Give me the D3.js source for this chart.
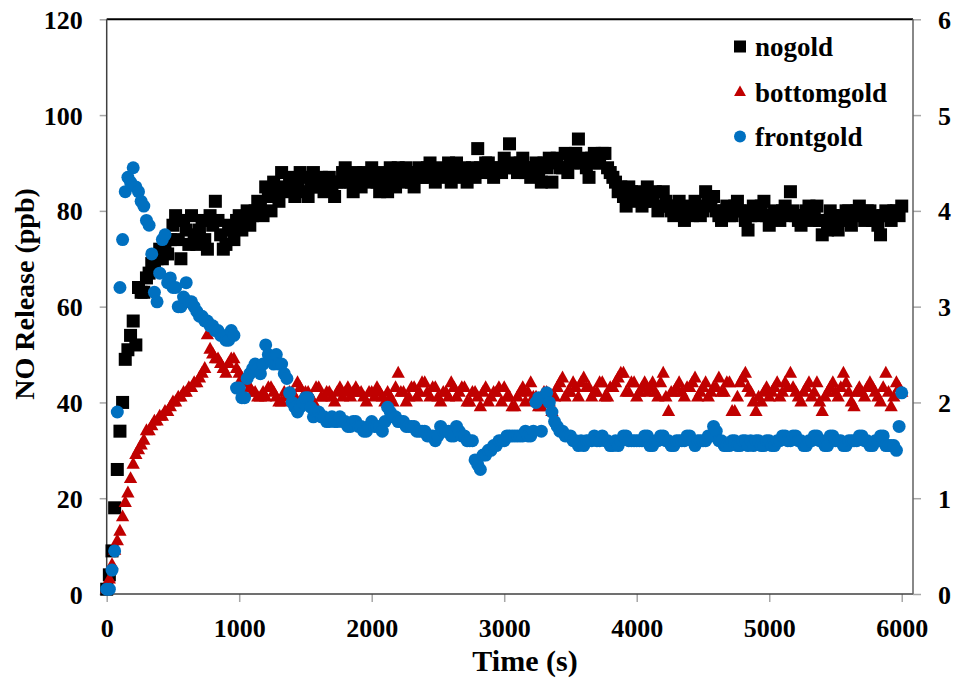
<!DOCTYPE html>
<html>
<head>
<meta charset="utf-8">
<script src="https://cdn.jsdelivr.net/npm/d3@7"></script>
<style>
  body { margin: 0; background: #fff; }
  svg text { font-family: "Liberation Serif", "Times New Roman", serif; font-weight: bold; fill: #000; }
</style>
</head>
<body>
<div id="chart"></div>
<script>
// sample times (s), one row per 500 s
const times = [
  0, 20, 40, 60, 80, 100, 120, 140, 160, 180, 200, 220, 240, 260, 280, 300, 320, 340, 360, 380, 400, 420, 440, 460, 480,
  500, 520, 540, 560, 580, 600, 620, 640, 660, 680, 700, 720, 740, 760, 780, 800, 820, 840, 860, 880, 900, 920, 940, 960, 980,
  1000, 1020, 1040, 1060, 1080, 1100, 1120, 1140, 1160, 1180, 1200, 1220, 1240, 1260, 1280, 1300, 1320, 1340, 1360, 1380, 1400, 1420, 1440, 1460, 1480,
  1500, 1520, 1540, 1560, 1580, 1600, 1620, 1640, 1660, 1680, 1700, 1720, 1740, 1760, 1780, 1800, 1820, 1840, 1860, 1880, 1900, 1920, 1940, 1960, 1980,
  2000, 2020, 2040, 2060, 2080, 2100, 2120, 2140, 2160, 2180, 2200, 2220, 2240, 2260, 2280, 2300, 2320, 2340, 2360, 2380, 2400, 2420, 2440, 2460, 2480,
  2500, 2520, 2540, 2560, 2580, 2600, 2620, 2640, 2660, 2680, 2700, 2720, 2740, 2760, 2780, 2800, 2820, 2840, 2860, 2880, 2900, 2920, 2940, 2960, 2980,
  3000, 3020, 3040, 3060, 3080, 3100, 3120, 3140, 3160, 3180, 3200, 3220, 3240, 3260, 3280, 3300, 3320, 3340, 3360, 3380, 3400, 3420, 3440, 3460, 3480,
  3500, 3520, 3540, 3560, 3580, 3600, 3620, 3640, 3660, 3680, 3700, 3720, 3740, 3760, 3780, 3800, 3820, 3840, 3860, 3880, 3900, 3920, 3940, 3960, 3980,
  4000, 4020, 4040, 4060, 4080, 4100, 4120, 4140, 4160, 4180, 4200, 4220, 4240, 4260, 4280, 4300, 4320, 4340, 4360, 4380, 4400, 4420, 4440, 4460, 4480,
  4500, 4520, 4540, 4560, 4580, 4600, 4620, 4640, 4660, 4680, 4700, 4720, 4740, 4760, 4780, 4800, 4820, 4840, 4860, 4880, 4900, 4920, 4940, 4960, 4980,
  5000, 5020, 5040, 5060, 5080, 5100, 5120, 5140, 5160, 5180, 5200, 5220, 5240, 5260, 5280, 5300, 5320, 5340, 5360, 5380, 5400, 5420, 5440, 5460, 5480,
  5500, 5520, 5540, 5560, 5580, 5600, 5620, 5640, 5660, 5680, 5700, 5720, 5740, 5760, 5780, 5800, 5820, 5840, 5860, 5880, 5900, 5920, 5940, 5960, 5980,
  6000
];

const nogold = [
  1, 4, 9, 18, 26, 34, 40, 49, 51, 54, 57, 52, 64, 63, 63, 66, 67, 69, 68, 70, 72, 70, 73, 71, 74,
  77, 79, 74, 70, 78, 76, 73, 79, 75, 73, 76, 78, 74, 72, 79, 77, 82, 78, 75, 72, 73, 77, 76, 74, 78,
  79, 76, 78, 80, 77, 79, 80, 82, 81, 79, 85, 83, 80, 86, 84, 82, 88, 85, 84, 87, 86, 83, 85, 88, 87,
  84, 83, 86, 88, 85, 85, 87, 84, 86, 87, 85, 83, 86, 86, 88, 89, 87, 86, 84, 88, 86, 85, 88, 87, 86,
  89, 87, 86, 84, 88, 86, 84, 89, 87, 85, 89, 88, 86, 89, 88, 86, 85, 88, 89, 87, 87, 89, 90, 88, 86,
  88, 89, 87, 88, 90, 86, 88, 90, 87, 88, 89, 86, 88, 89, 87, 93, 89, 88, 90, 90, 88, 87, 89, 89, 88,
  91, 89, 94, 90, 89, 88, 90, 91, 88, 89, 87, 89, 90, 88, 86, 90, 89, 91, 86, 90, 91, 89, 89, 92, 88,
  91, 90, 92, 95, 90, 91, 89, 87, 91, 92, 90, 90, 92, 92, 89, 88, 87, 86, 84, 85, 83, 81, 85, 84, 82,
  84, 83, 81, 82, 85, 83, 82, 84, 80, 81, 84, 82, 81, 80, 79, 81, 82, 80, 78, 81, 80, 79, 82, 81, 79,
  80, 84, 82, 81, 83, 80, 79, 78, 80, 81, 79, 79, 81, 82, 80, 80, 78, 76, 79, 81, 80, 79, 81, 82, 79,
  77, 79, 80, 79, 78, 80, 81, 79, 84, 80, 79, 78, 77, 79, 80, 81, 78, 79, 81, 78, 75, 78, 76, 80, 79,
  78, 76, 79, 78, 80, 80, 77, 79, 80, 81, 79, 78, 80, 80, 78, 79, 77, 75, 79, 80, 79, 78, 80, 80, 79,
  81
];

const bottomgold = [
  1, 3, 6, 9, 11, 13, 16, 19, 21, 24, 27, 29, 30, 31, 32, 34, 34, 35, 36, 36, 37, 37, 38, 38, 39,
  40, 40, 41, 41, 42, 42, 43, 43, 44, 44, 45, 46, 47, 54, 51, 50, 49, 49, 48, 47, 46, 48, 49, 49, 47,
  46, 45, 44, 44, 43, 42, 42, 41, 41, 42, 41, 43, 43, 42, 41, 40, 40, 42, 41, 42, 42, 41, 44, 43, 41,
  42, 42, 41, 40, 43, 43, 41, 41, 42, 42, 41, 40, 42, 43, 41, 42, 43, 41, 42, 43, 42, 42, 41, 40, 42,
  42, 41, 43, 42, 41, 40, 42, 41, 40, 43, 46, 42, 42, 40, 41, 43, 43, 41, 42, 44, 44, 42, 41, 43, 43,
  41, 40, 42, 42, 41, 44, 43, 41, 42, 43, 43, 40, 40, 42, 42, 41, 39, 42, 43, 40, 41, 42, 42, 43, 40,
  43, 41, 41, 39, 39, 41, 42, 43, 40, 42, 44, 41, 41, 39, 39, 42, 42, 40, 38, 41, 43, 44, 45, 41, 42,
  42, 44, 43, 41, 44, 45, 43, 43, 41, 42, 42, 44, 44, 41, 41, 43, 43, 44, 45, 46, 46, 42, 42, 44, 44,
  41, 42, 43, 44, 42, 43, 44, 42, 41, 44, 46, 41, 38, 42, 42, 43, 44, 42, 41, 43, 43, 44, 45, 41, 42,
  43, 44, 41, 42, 43, 43, 45, 42, 42, 44, 44, 38, 38, 41, 44, 45, 46, 43, 42, 40, 38, 41, 40, 42, 43,
  41, 42, 43, 44, 41, 42, 44, 43, 46, 43, 42, 41, 40, 42, 43, 44, 41, 42, 44, 40, 38, 41, 42, 43, 44,
  42, 41, 43, 46, 44, 42, 40, 39, 42, 43, 42, 41, 43, 44, 43, 42, 41, 40, 43, 46, 42, 39, 41, 44, 43,
  42
];

const frontgold = [
  1, 1, 5, 9, 38, 64, 74, 84, 87, 86, 89, 85, 84, 82, 81, 78, 77, 71, 63, 61, 67, 74, 75, 65, 66,
  64, 64, 60, 60, 62, 65, 61, 61, 60, 59, 58, 58, 57, 57, 56, 56, 55, 55, 54, 54, 53, 53, 55, 54, 43,
  43, 41, 41, 45, 46, 47, 48, 47, 46, 48, 52, 50, 49, 48, 50, 48, 48, 46, 45, 42, 40, 39, 38, 39, 40,
  41, 41, 39, 37, 38, 38, 37, 37, 36, 36, 37, 36, 36, 37, 36, 36, 35, 35, 36, 36, 35, 35, 34, 34, 35,
  36, 35, 35, 35, 34, 36, 39, 38, 37, 37, 36, 36, 36, 35, 35, 35, 35, 34, 34, 34, 34, 33, 33, 33, 32,
  33, 35, 34, 34, 34, 33, 33, 35, 34, 33, 33, 32, 32, 32, 28, 27, 26, 29, 29, 30, 30, 31, 31, 32, 32,
  32, 33, 33, 33, 33, 33, 33, 33, 34, 33, 33, 34, 40, 41, 34, 41, 42, 40, 38, 36, 35, 34, 34, 33, 33,
  33, 32, 32, 31, 32, 31, 32, 32, 32, 33, 32, 32, 33, 32, 32, 31, 31, 32, 31, 32, 33, 33, 32, 32, 32,
  32, 32, 32, 33, 33, 31, 31, 32, 32, 33, 33, 32, 32, 31, 31, 32, 32, 32, 32, 33, 33, 32, 31, 32, 32,
  32, 32, 33, 33, 35, 34, 32, 32, 31, 31, 31, 32, 32, 31, 31, 32, 32, 31, 32, 31, 32, 32, 31, 31, 32,
  32, 31, 31, 32, 32, 33, 33, 32, 32, 33, 33, 32, 32, 31, 31, 32, 32, 33, 33, 32, 32, 31, 31, 33, 33,
  32, 32, 32, 31, 31, 32, 32, 32, 32, 33, 33, 32, 32, 31, 31, 32, 32, 33, 33, 31, 31, 31, 31, 30, 35,
  42
];

const seriesNames = ["nogold", "bottomgold", "frontgold"];
const xTicks = [0, 1000, 2000, 3000, 4000, 5000, 6000];
const yTicks = [0, 20, 40, 60, 80, 100, 120];
const y2Ticks = [0, 1, 2, 3, 4, 5, 6];

const W = 956, H = 681;
const plot = {left: 106.7, right: 913, top: 19.3, bottom: 594};
const colors = {nogold: "#000000", bottomgold: "#C00000", frontgold: "#0070C0"};
const fontFam = '"Liberation Serif", "Times New Roman", serif';

const svg = d3.select("#chart")
    .append("svg")
    .attr("width", W)
    .attr("height", H);

const x = d3.scaleLinear().domain([0, 6085]).range([plot.left, plot.right]);
const y = d3.scaleLinear().domain([0, 120]).range([plot.bottom, plot.top]);
const y2 = d3.scaleLinear().domain([0, 6]).range([plot.bottom, plot.top]);

// axes (gray ticks, bold labels)
const gx = svg.append("g")
    .attr("transform", `translate(0,${plot.bottom})`)
    .call(d3.axisBottom(x).tickValues(xTicks).tickSize(8).tickFormat(d3.format("d")));
gx.selectAll("text").attr("y", 43).attr("dy", null);

const gy = svg.append("g")
    .attr("transform", `translate(${plot.left},0)`)
    .call(d3.axisLeft(y).tickValues(yTicks).tickSize(7).tickFormat(d3.format("d")));
gy.selectAll("text").attr("x", -24).attr("dy", "0.35em");

const gy2 = svg.append("g")
    .attr("transform", `translate(${plot.right},0)`)
    .call(d3.axisRight(y2).tickValues(y2Ticks).tickSize(8).tickFormat(d3.format("d")));
gy2.selectAll("text").attr("x", 25).attr("dy", "0.35em");

[gx, gy, gy2].forEach(g => {
    g.attr("font-family", null).attr("font-size", null);
    g.select(".domain").remove();
    g.selectAll(".tick line").attr("stroke", "#a6a6a6").attr("stroke-width", 1.5);
    g.selectAll("text")
        .style("font-family", fontFam)
        .style("font-weight", "bold")
        .style("font-size", "26px");
});

// plot frame
svg.append("line")
    .attr("x1", plot.left).attr("x2", plot.right)
    .attr("y1", plot.top).attr("y2", plot.top)
    .attr("stroke", "#000").attr("stroke-width", 2);
svg.append("line")
    .attr("x1", plot.left).attr("x2", plot.right)
    .attr("y1", plot.bottom).attr("y2", plot.bottom)
    .attr("stroke", "#404040").attr("stroke-width", 1.5);
svg.append("line")
    .attr("x1", plot.left).attr("x2", plot.left)
    .attr("y1", plot.top).attr("y2", plot.bottom)
    .attr("stroke", "#404040").attr("stroke-width", 1.5);
svg.append("line")
    .attr("x1", plot.right).attr("x2", plot.right)
    .attr("y1", plot.top).attr("y2", plot.bottom)
    .attr("stroke", "#606060").attr("stroke-width", 1.5);

const tri = (w, h) => `M0,${-h * 2 / 3}L${w / 2},${h / 3}L${-w / 2},${h / 3}Z`;

function drawMarker(g, name, size) {
    if (name === "nogold") {
        g.append("rect")
            .attr("x", -size / 2).attr("y", -size / 2)
            .attr("width", size).attr("height", size)
            .attr("fill", colors[name]);
    } else if (name === "bottomgold") {
        g.append("path").attr("d", tri(size * 0.95, size * 0.85)).attr("fill", colors[name]);
    } else {
        g.append("circle").attr("r", size / 2).attr("fill", colors[name]);
    }
}

const seriesData = {nogold: nogold, bottomgold: bottomgold, frontgold: frontgold};

seriesNames.forEach(name => {
    const pts = times.map((t, i) => ({t: t, v: seriesData[name][i]}));
    const g = svg.append("g").attr("class", "series-" + name);
    pts.forEach(d => {
        const m = g.append("g").attr("transform", `translate(${x(d.t)},${y(d.v)})`);
        drawMarker(m, name, name === "bottomgold" ? 14 : 13);
    });
});

// axis titles
svg.append("text")
    .attr("x", 525)
    .attr("y", 671)
    .attr("text-anchor", "middle")
    .style("font-family", fontFam)
    .style("font-size", "30px")
    .text("Time (s)");

svg.append("text")
    .attr("transform", `translate(34,${294}) rotate(-90)`)
    .attr("text-anchor", "middle")
    .style("font-family", fontFam)
    .style("font-size", "28px")
    .text("NO Release (ppb)");

// legend
const legendY = [46.5, 92.5, 136.5];
const legend = svg.selectAll(".legend")
    .data(seriesNames)
    .enter().append("g")
    .attr("class", "legend")
    .attr("transform", (d, i) => `translate(740,${legendY[i]})`);

legend.each(function(d) {
    const size = d === "bottomgold" ? 12.5 : 12;
    drawMarker(d3.select(this), d, size);
});

legend.append("text")
    .attr("x", 15)
    .attr("y", 9)
    .style("font-family", fontFam)
    .style("font-size", "27px")
    .text(d => d);
</script>
</body>
</html>
